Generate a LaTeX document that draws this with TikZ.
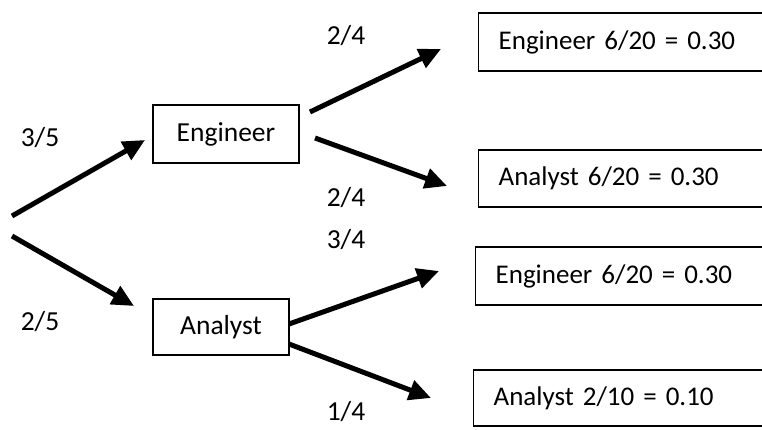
\documentclass[tikz,border=0pt]{standalone}
\usepackage{fontspec}
\setmainfont{Carlito}
\usetikzlibrary{arrows.meta}
\begin{document}
\begin{tikzpicture}[x=1pt,y=-1pt,
  lbl/.style={font=\fontsize{27.5}{32}\selectfont, inner sep=0pt},
  midbox/.style={draw, line width=1.3pt, font=\fontsize{27.5}{32}\selectfont, minimum height=58pt, inner sep=0pt},
  leafbox/.style={draw, line width=1.3pt, font=\fontsize{27}{32}\selectfont, minimum height=58pt, minimum width=300pt, anchor=west, inner xsep=20pt, text width=260pt, align=left},
  arr/.style={line width=5pt, -{Triangle[length=22pt,width=20pt]}}]
\clip (0,0) rectangle (762,430);
\useasboundingbox (0,0) rectangle (762,430);
\fill[white] (0,0) rectangle (762,430);
% middle nodes
\node[midbox, minimum width=146pt] (eng) at (226,134) {Engineer};
\node[midbox, minimum width=136pt, minimum height=56pt] (ana) at (221,327) {Analyst};
% leaves
\node[leafbox] (l1) at (478,42) {Engineer 6/20 = 0.30};
\node[leafbox, minimum height=57pt] (l2) at (478,178.5) {Analyst 6/20 = 0.30};
\node[leafbox, inner xsep=18pt] (l3) at (475,276) {Engineer 6/20 = 0.30};
\node[leafbox, minimum height=56pt] (l4) at (473,398) {Analyst 2/10 = 0.10};
% connector endpoints
\coordinate (r1) at (12,216);
\coordinate (r2) at (12,236);
\coordinate (e1) at (145,140);
\coordinate (a1) at (134,306);
\coordinate (eo1) at (310,112);
\coordinate (eo2) at (315,138);
\coordinate (t1) at (441,49);
\coordinate (t2) at (447,186);
\coordinate (ao1) at (289,324);
\coordinate (ao2) at (289,344);
\coordinate (t3) at (439,271);
\coordinate (t4) at (431,398);
\draw[arr] (r1) -- (e1);
\draw[arr] (r2) -- (a1);
\draw[arr] (eo1) -- (t1);
\draw[arr] (eo2) -- (t2);
\draw[arr] (ao1) -- (t3);
\draw[arr] (ao2) -- (t4);
% labels
\node[lbl] (p1) at (40,138) {3/5};
\node[lbl] (p2) at (40,322) {2/5};
\node[lbl] (p3) at (346,36) {2/4};
\node[lbl] (p4) at (346,198) {2/4};
\node[lbl] (p5) at (346,240) {3/4};
\node[lbl] (p6) at (346,412) {1/4};
\end{tikzpicture}
\end{document}
